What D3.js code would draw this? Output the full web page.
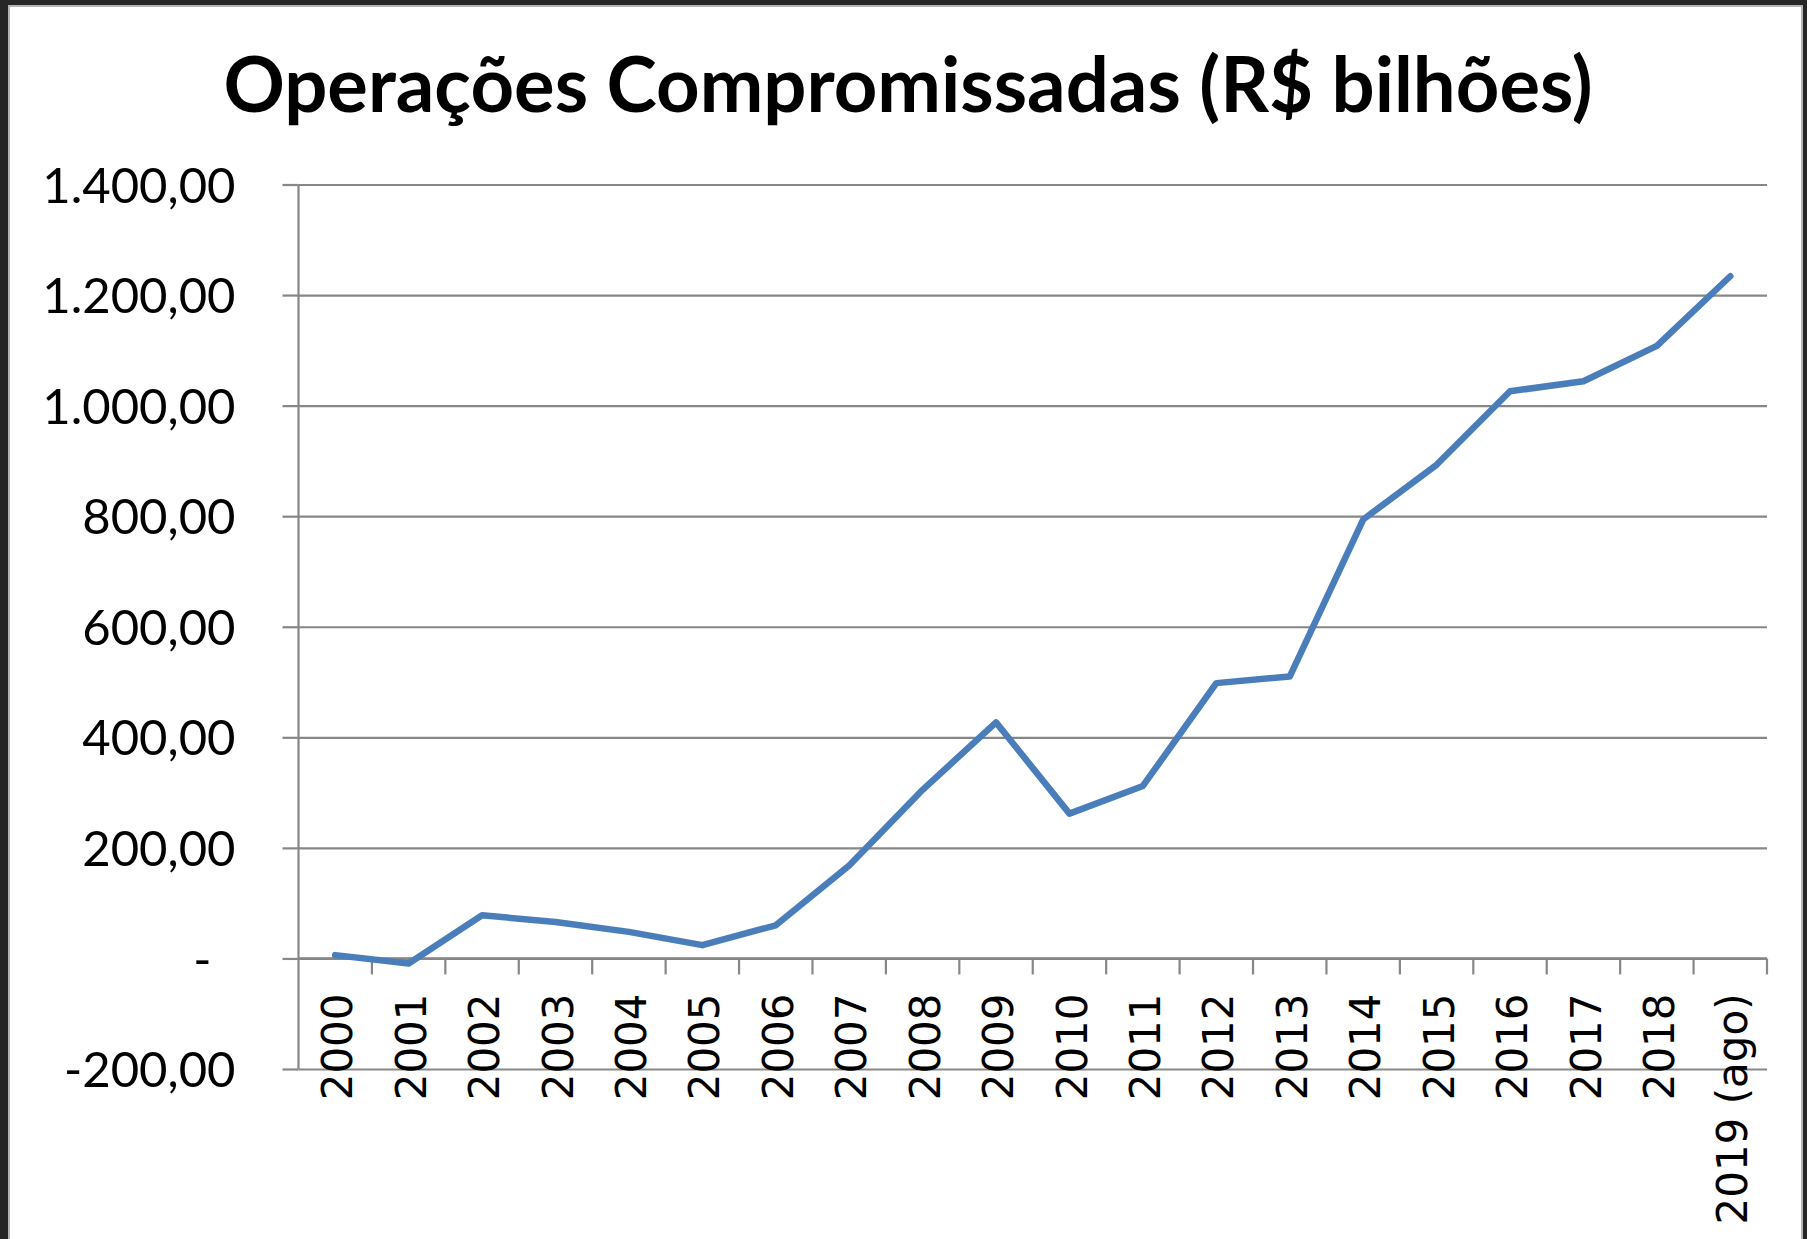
<!DOCTYPE html>
<html>
<head>
<meta charset="utf-8">
<script src="https://cdn.jsdelivr.net/npm/d3@7"></script>
<style>
    body { margin: 0; background: #262626; }
    svg { display: block; }
    .axis path { display: none; }
</style>
</head>
<body>
<svg id="chart" width="1807" height="1239"></svg>
<script>
let years = ['2000', '2001', '2002', '2003', '2004', '2005', '2006', '2007', '2008', '2009',
    '2010', '2011', '2012', '2013', '2014', '2015', '2016', '2017', '2018', '2019 (ago)']
let values = [6, -9, 78, 66, 48, 24, 60, 168, 305, 427, 262, 312, 498, 510, 794, 893, 1026, 1044, 1108, 1234]
let yTicks = [-200, 0, 200, 400, 600, 800, 1000, 1200, 1400]

function main() {
    let svg = d3.select('#chart'),
        margin = {top: 184.5, left: 298.5, right: 40, bottom: 170},
        width = svg.attr('width') - margin.left - margin.right,
        height = svg.attr('height') - margin.top - margin.bottom

    // white chart area with a thin grey frame, dark strips around it
    svg.append('rect')
        .attr('x', 9).attr('y', 6)
        .attr('width', 1793).attr('height', 1250)
        .attr('fill', 'white')
        .attr('stroke', '#b4b4b4')
        .attr('stroke-width', 2)

    let xScale = d3.scaleBand().range([margin.left, margin.left + width]).domain(years),
        yScale = d3.scaleLinear().range([margin.top + height, margin.top]).domain([-200, 1400])

    let grey = '#878787'
    let fmt = d3.formatLocale({decimal: ',', thousands: '.', grouping: [3], currency: ['R$', ''], minus: '-'}).format(',.2f')

    // gridlines + left ticks
    svg.append('g')
        .attr('class', 'axis')
        .attr('transform', 'translate(' + margin.left + ', 0)')
        .call(d3.axisLeft(yScale).tickValues(yTicks).tickSize(16).tickPadding(47).tickFormat(d => d === 0 ? '-' : fmt(d)))
        .call(g => g.selectAll('.tick line').attr('stroke', grey).attr('stroke-width', 2.2))
        .call(g => g.selectAll('.tick').append('line')
            .attr('x1', 0).attr('x2', width)
            .attr('stroke', grey).attr('stroke-width', 2.2))
        .call(g => g.selectAll('.tick text')
            .attr('fill', 'black')
            .attr('font-family', 'Lato, sans-serif')
            .attr('font-size', 49)
            .attr('dy', '0.36em'))
        .call(g => g.selectAll('.tick text').filter(d => d === 0).attr('dx', -24))

    // y axis line
    svg.append('line')
        .attr('x1', margin.left).attr('x2', margin.left)
        .attr('y1', yScale(1400)).attr('y2', yScale(-200))
        .attr('stroke', grey).attr('stroke-width', 2.2)

    // x axis at zero: ticks on category boundaries
    let y0 = yScale(0)
    svg.append('line')
        .attr('x1', margin.left).attr('x2', margin.left + width)
        .attr('y1', y0).attr('y2', y0)
        .attr('stroke', grey).attr('stroke-width', 2.2)

    svg.selectAll('.xtick')
        .data(years)
        .enter()
        .append('line')
        .attr('class', 'xtick')
        .attr('x1', d => xScale(d) + xScale.bandwidth())
        .attr('x2', d => xScale(d) + xScale.bandwidth())
        .attr('y1', y0).attr('y2', y0 + 16)
        .attr('stroke', grey).attr('stroke-width', 2.2)

    svg.selectAll('.xlabel')
        .data(years)
        .enter()
        .append('text')
        .attr('class', 'xlabel')
        .attr('text-anchor', 'end')
        .attr('font-family', 'DejaVu Sans, sans-serif')
        .attr('font-size', 42)
        .attr('fill', 'black')
        .attr('transform', d => 'translate(' + (xScale(d) + xScale.bandwidth() / 2 + 2) + ',' + (y0 + 35) + ') rotate(-90)')
        .attr('dy', '0.36em')
        .text(d => d)

    // data line
    let line = d3.line()
        .x((d, i) => xScale(years[i]) + xScale.bandwidth() / 2)
        .y(d => yScale(d))

    svg.append('path')
        .datum(values)
        .attr('fill', 'none')
        .attr('stroke', '#4a7ebb')
        .attr('stroke-width', 6.5)
        .attr('stroke-linejoin', 'round')
        .attr('stroke-linecap', 'round')
        .attr('d', line)

    // title
    svg.append('text')
        .attr('x', 908)
        .attr('y', 112)
        .attr('text-anchor', 'middle')
        .attr('font-family', 'Lato, sans-serif')
        .attr('font-weight', 'bold')
        .attr('font-size', 76)
        .attr('fill', 'black')
        .text('Operações Compromissadas (R$ bilhões)')
}

main()
</script>
</body>
</html>
